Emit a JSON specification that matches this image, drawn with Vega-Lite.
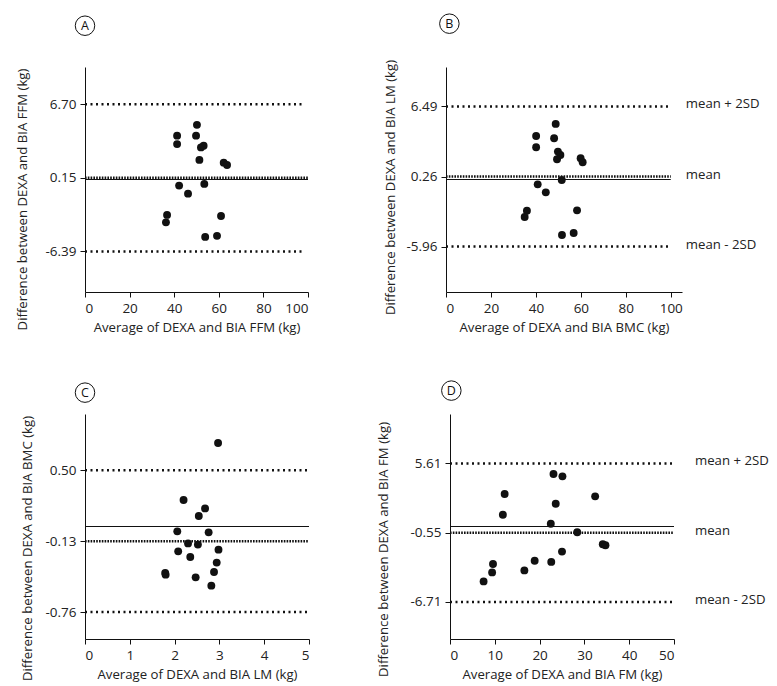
{
  "$schema": "https://vega.github.io/schema/vega-lite/v6.json",
  "padding": {"left": 14, "top": 11, "right": 5, "bottom": 5},
  "background": "white",
  "config": {
    "view": {"stroke": null},
    "axis": {"grid": false, "domainColor": "#111", "tickColor": "#111", "labelColor": "#222", "titleColor": "#222", "labelFont": "Open Sans", "titleFont": "Open Sans", "labelFontSize": 13.5, "titleFontSize": 13.2, "titleFontWeight": "normal", "tickSize": 5, "labelPadding": 4, "domainWidth": 1, "tickWidth": 1},
    "text": {"font": "Open Sans", "fontSize": 13.2, "color": "#222"}
  },
  "datasets": {
    "pts": [
      {"panel": "A", "avg": 41.3, "diff": 3.9}, {"panel": "A", "avg": 41.3, "diff": 3.15}, {"panel": "A", "avg": 50.2, "diff": 4.86}, {"panel": "A", "avg": 49.8, "diff": 3.9}, {"panel": "A", "avg": 52.0, "diff": 2.85}, {"panel": "A", "avg": 53.2, "diff": 3.0}, {"panel": "A", "avg": 51.3, "diff": 1.74}, {"panel": "A", "avg": 62.2, "diff": 1.5}, {"panel": "A", "avg": 63.7, "diff": 1.29}, {"panel": "A", "avg": 42.2, "diff": -0.54}, {"panel": "A", "avg": 46.2, "diff": -1.26}, {"panel": "A", "avg": 53.5, "diff": -0.39}, {"panel": "A", "avg": 36.8, "diff": -3.15}, {"panel": "A", "avg": 36.3, "diff": -3.81}, {"panel": "A", "avg": 61.0, "diff": -3.24}, {"panel": "A", "avg": 53.9, "diff": -5.1}, {"panel": "A", "avg": 59.2, "diff": -5.01},
      {"panel": "B", "avg": 48.8, "diff": 4.94}, {"panel": "B", "avg": 40.1, "diff": 3.87}, {"panel": "B", "avg": 48.1, "diff": 3.67}, {"panel": "B", "avg": 40.1, "diff": 2.87}, {"panel": "B", "avg": 49.8, "diff": 2.48}, {"panel": "B", "avg": 50.9, "diff": 2.18}, {"panel": "B", "avg": 49.4, "diff": 1.8}, {"panel": "B", "avg": 59.9, "diff": 1.89}, {"panel": "B", "avg": 60.8, "diff": 1.53}, {"panel": "B", "avg": 51.5, "diff": -0.04}, {"panel": "B", "avg": 40.8, "diff": -0.43}, {"panel": "B", "avg": 44.4, "diff": -1.14}, {"panel": "B", "avg": 36.0, "diff": -2.77}, {"panel": "B", "avg": 35.0, "diff": -3.33}, {"panel": "B", "avg": 58.3, "diff": -2.74}, {"panel": "B", "avg": 51.6, "diff": -4.93}, {"panel": "B", "avg": 56.8, "diff": -4.76},
      {"panel": "C", "avg": 2.97, "diff": 0.742}, {"panel": "C", "avg": 2.2, "diff": 0.236}, {"panel": "C", "avg": 2.68, "diff": 0.161}, {"panel": "C", "avg": 2.54, "diff": 0.093}, {"panel": "C", "avg": 2.06, "diff": -0.043}, {"panel": "C", "avg": 2.76, "diff": -0.052}, {"panel": "C", "avg": 2.3, "diff": -0.15}, {"panel": "C", "avg": 2.52, "diff": -0.161}, {"panel": "C", "avg": 2.08, "diff": -0.221}, {"panel": "C", "avg": 2.98, "diff": -0.206}, {"panel": "C", "avg": 2.35, "diff": -0.271}, {"panel": "C", "avg": 2.94, "diff": -0.321}, {"panel": "C", "avg": 1.79, "diff": -0.413}, {"panel": "C", "avg": 1.8, "diff": -0.428}, {"panel": "C", "avg": 2.88, "diff": -0.404}, {"panel": "C", "avg": 2.47, "diff": -0.452}, {"panel": "C", "avg": 2.82, "diff": -0.526},
      {"panel": "D", "avg": 23.1, "diff": 4.67}, {"panel": "D", "avg": 25.1, "diff": 4.46}, {"panel": "D", "avg": 12.2, "diff": 2.89}, {"panel": "D", "avg": 32.4, "diff": 2.68}, {"panel": "D", "avg": 23.6, "diff": 2.02}, {"panel": "D", "avg": 11.8, "diff": 1.04}, {"panel": "D", "avg": 22.5, "diff": 0.24}, {"panel": "D", "avg": 28.4, "diff": -0.51}, {"panel": "D", "avg": 34.1, "diff": -1.58}, {"panel": "D", "avg": 34.7, "diff": -1.67}, {"panel": "D", "avg": 25.0, "diff": -2.23}, {"panel": "D", "avg": 9.6, "diff": -3.33}, {"panel": "D", "avg": 18.9, "diff": -3.04}, {"panel": "D", "avg": 22.6, "diff": -3.15}, {"panel": "D", "avg": 9.4, "diff": -4.08}, {"panel": "D", "avg": 16.6, "diff": -3.9}, {"panel": "D", "avg": 7.5, "diff": -4.88}
    ],
    "lim": [
      {"panel": "A", "kind": "upper", "value": 6.70, "label": "mean + 2SD"}, {"panel": "A", "kind": "mean", "value": 0.15, "label": "mean"}, {"panel": "A", "kind": "lower", "value": -6.39, "label": "mean - 2SD"},
      {"panel": "B", "kind": "upper", "value": 6.49, "label": "mean + 2SD"}, {"panel": "B", "kind": "mean", "value": 0.26, "label": "mean"}, {"panel": "B", "kind": "lower", "value": -5.96, "label": "mean - 2SD"},
      {"panel": "C", "kind": "upper", "value": 0.50, "label": "mean + 2SD"}, {"panel": "C", "kind": "mean", "value": -0.13, "label": "mean"}, {"panel": "C", "kind": "lower", "value": -0.76, "label": "mean - 2SD"},
      {"panel": "D", "kind": "upper", "value": 5.61, "label": "mean + 2SD"}, {"panel": "D", "kind": "mean", "value": -0.55, "label": "mean"}, {"panel": "D", "kind": "lower", "value": -6.71, "label": "mean - 2SD"}
    ]
  },
  "spacing": 44,
  "vconcat": [
    {
      "spacing": 72,
      "hconcat": [
        {
          "width": 223, "height": 225,
          "data": {"name": "lim"},
          "transform": [{"filter": "datum.panel === 'A'"}],
          "resolve": {"axis": {"x": "independent", "y": "independent"}},
          "layer": [
            {"transform": [{"filter": "datum.kind === 'mean'"}],
             "mark": {"type": "rule", "color": "#111", "strokeWidth": 1.2},
             "encoding": {"x": {"datum": 0, "type": "quantitative", "scale": {"domain": [0, 100], "nice": false}, "axis": null}, "x2": {"datum": 100}, "y": {"datum": 0, "type": "quantitative", "scale": {"domain": [-10, 10], "nice": false}, "axis": null}}},
            {"transform": [{"filter": "datum.kind !== 'mean'"}],
             "mark": {"type": "rule", "color": "#111", "strokeWidth": 2.5, "strokeDash": [2, 3.5]},
             "encoding": {"x": {"datum": 0, "type": "quantitative", "scale": {"domain": [0, 100], "nice": false}, "axis": null}, "x2": {"datum": 98}, "y": {"field": "value", "type": "quantitative", "scale": {"domain": [-10, 10], "nice": false}, "axis": null}}},
            {"transform": [{"filter": "datum.kind === 'mean'"}],
             "mark": {"type": "rule", "color": "#111", "strokeWidth": 2.5, "strokeDash": [1.6, 1.2]},
             "encoding": {"x": {"datum": 0, "type": "quantitative", "scale": {"domain": [0, 100], "nice": false}, "axis": null}, "x2": {"datum": 100}, "y": {"field": "value", "type": "quantitative", "scale": {"domain": [-10, 10], "nice": false}, "axis": null}}},
            {"data": {"name": "pts"}, "transform": [{"filter": "datum.panel === 'A'"}],
             "mark": {"type": "circle", "color": "#111", "size": 62, "opacity": 1},
             "encoding": {
               "x": {"field": "avg", "type": "quantitative", "scale": {"domain": [0, 100], "nice": false}, "axis": {"title": "Average of DEXA and BIA FFM (kg)", "values": [0, 20, 40, 60, 80, 100], "titlePadding": 7}},
               "y": {"field": "diff", "type": "quantitative", "scale": {"domain": [-10, 10], "nice": false}, "axis": {"title": "Difference between DEXA and BIA FFM (kg)", "values": [6.70, 0.15, -6.39], "labelExpr": "replace(format(datum.value, '.2f'), '\u2212', '-')", "minExtent": 40, "maxExtent": 40, "titlePadding": 16, "titleY": 132}}}},
            {"transform": [{"filter": "datum.kind === 'mean'"}],
             "mark": {"type": "point", "shape": "circle", "filled": false, "size": 380, "stroke": "#111", "strokeWidth": 1, "opacity": 1},
             "encoding": {"x": {"datum": 0, "type": "quantitative", "scale": {"domain": [0, 100], "nice": false}, "axis": null}, "y": {"datum": 13.67, "type": "quantitative", "scale": {"domain": [-10, 10], "nice": false}, "axis": null}}},
            {"transform": [{"filter": "datum.kind === 'mean'"}],
             "mark": {"type": "text", "fontSize": 12.5, "color": "#111", "align": "center", "baseline": "middle"},
             "encoding": {"x": {"datum": 0, "type": "quantitative", "scale": {"domain": [0, 100], "nice": false}, "axis": null}, "y": {"datum": 13.67, "type": "quantitative", "scale": {"domain": [-10, 10], "nice": false}, "axis": null}, "text": {"field": "panel"}}}
          ]
        },
        {
          "width": 236, "height": 225,
          "data": {"name": "lim"},
          "transform": [{"filter": "datum.panel === 'B'"}],
          "resolve": {"axis": {"x": "independent", "y": "independent"}},
          "layer": [
            {"transform": [{"filter": "datum.kind === 'mean'"}],
             "mark": {"type": "rule", "color": "#111", "strokeWidth": 1.2},
             "encoding": {"x": {"datum": 0, "type": "quantitative", "scale": {"domain": [0, 105], "nice": false}, "axis": null}, "x2": {"datum": 100}, "y": {"datum": 0, "type": "quantitative", "scale": {"domain": [-10, 10], "nice": false}, "axis": null}}},
            {"transform": [{"filter": "datum.kind !== 'mean'"}],
             "mark": {"type": "rule", "color": "#111", "strokeWidth": 2.5, "strokeDash": [2, 3.5]},
             "encoding": {"x": {"datum": 0, "type": "quantitative", "scale": {"domain": [0, 105], "nice": false}, "axis": null}, "x2": {"datum": 100}, "y": {"field": "value", "type": "quantitative", "scale": {"domain": [-10, 10], "nice": false}, "axis": null}}},
            {"transform": [{"filter": "datum.kind === 'mean'"}],
             "mark": {"type": "rule", "color": "#111", "strokeWidth": 2.5, "strokeDash": [1.6, 1.2]},
             "encoding": {"x": {"datum": 0, "type": "quantitative", "scale": {"domain": [0, 105], "nice": false}, "axis": null}, "x2": {"datum": 100}, "y": {"field": "value", "type": "quantitative", "scale": {"domain": [-10, 10], "nice": false}, "axis": null}}},
            {"mark": {"type": "text", "align": "left", "baseline": "middle", "dx": 15, "dy": -2},
             "encoding": {"x": {"datum": 100, "type": "quantitative", "scale": {"domain": [0, 105], "nice": false}, "axis": null}, "y": {"field": "value", "type": "quantitative", "scale": {"domain": [-10, 10], "nice": false}, "axis": null}, "text": {"field": "label"}}},
            {"data": {"name": "pts"}, "transform": [{"filter": "datum.panel === 'B'"}],
             "mark": {"type": "circle", "color": "#111", "size": 62, "opacity": 1},
             "encoding": {
               "x": {"field": "avg", "type": "quantitative", "scale": {"domain": [0, 105], "nice": false}, "axis": {"title": "Average of DEXA and BIA BMC (kg)", "values": [0, 20, 40, 60, 80, 100], "titlePadding": 7}},
               "y": {"field": "diff", "type": "quantitative", "scale": {"domain": [-10, 10], "nice": false}, "axis": {"title": "Difference between DEXA and BIA LM (kg)", "values": [6.49, 0.26, -5.96], "labelExpr": "replace(format(datum.value, '.2f'), '\u2212', '-')", "minExtent": 40, "maxExtent": 40, "titlePadding": 9, "titleY": 120}}}},
            {"transform": [{"filter": "datum.kind === 'mean'"}],
             "mark": {"type": "point", "shape": "circle", "filled": false, "size": 380, "stroke": "#111", "strokeWidth": 1, "opacity": 1},
             "encoding": {"x": {"datum": 1.5, "type": "quantitative", "scale": {"domain": [0, 105], "nice": false}, "axis": null}, "y": {"datum": 13.85, "type": "quantitative", "scale": {"domain": [-10, 10], "nice": false}, "axis": null}}},
            {"transform": [{"filter": "datum.kind === 'mean'"}],
             "mark": {"type": "text", "fontSize": 12.5, "color": "#111", "align": "center", "baseline": "middle"},
             "encoding": {"x": {"datum": 1.5, "type": "quantitative", "scale": {"domain": [0, 105], "nice": false}, "axis": null}, "y": {"datum": 13.85, "type": "quantitative", "scale": {"domain": [-10, 10], "nice": false}, "axis": null}, "text": {"field": "panel"}}}
          ]
        }
      ]
    },
    {
      "spacing": 64,
      "hconcat": [
        {
          "width": 224, "height": 225,
          "data": {"name": "lim"},
          "transform": [{"filter": "datum.panel === 'C'"}],
          "resolve": {"axis": {"x": "independent", "y": "independent"}},
          "layer": [
            {"transform": [{"filter": "datum.kind === 'mean'"}],
             "mark": {"type": "rule", "color": "#111", "strokeWidth": 1.2},
             "encoding": {"x": {"datum": 0, "type": "quantitative", "scale": {"domain": [0, 5], "nice": false}, "axis": null}, "x2": {"datum": 5}, "y": {"datum": 0, "type": "quantitative", "scale": {"domain": [-1, 1], "nice": false}, "axis": null}}},
            {"transform": [{"filter": "datum.kind !== 'mean'"}],
             "mark": {"type": "rule", "color": "#111", "strokeWidth": 2.5, "strokeDash": [2, 3.5]},
             "encoding": {"x": {"datum": 0, "type": "quantitative", "scale": {"domain": [0, 5], "nice": false}, "axis": null}, "x2": {"datum": 5}, "y": {"field": "value", "type": "quantitative", "scale": {"domain": [-1, 1], "nice": false}, "axis": null}}},
            {"transform": [{"filter": "datum.kind === 'mean'"}],
             "mark": {"type": "rule", "color": "#111", "strokeWidth": 2.5, "strokeDash": [1.6, 1.2]},
             "encoding": {"x": {"datum": 0, "type": "quantitative", "scale": {"domain": [0, 5], "nice": false}, "axis": null}, "x2": {"datum": 5}, "y": {"field": "value", "type": "quantitative", "scale": {"domain": [-1, 1], "nice": false}, "axis": null}}},
            {"data": {"name": "pts"}, "transform": [{"filter": "datum.panel === 'C'"}],
             "mark": {"type": "circle", "color": "#111", "size": 62, "opacity": 1},
             "encoding": {
               "x": {"field": "avg", "type": "quantitative", "scale": {"domain": [0, 5], "nice": false}, "axis": {"title": "Average of DEXA and BIA LM (kg)", "values": [0, 1, 2, 3, 4, 5], "titlePadding": 7}},
               "y": {"field": "diff", "type": "quantitative", "scale": {"domain": [-1, 1], "nice": false}, "axis": {"title": "Difference between DEXA and BIA BMC (kg)", "values": [0.50, -0.13, -0.76], "labelExpr": "replace(format(datum.value, '.2f'), '\u2212', '-')", "minExtent": 40, "maxExtent": 40, "titlePadding": 11, "titleY": 134}}}},
            {"transform": [{"filter": "datum.kind === 'mean'"}],
             "mark": {"type": "point", "shape": "circle", "filled": false, "size": 380, "stroke": "#111", "strokeWidth": 1, "opacity": 1},
             "encoding": {"x": {"datum": 0, "type": "quantitative", "scale": {"domain": [0, 5], "nice": false}, "axis": null}, "y": {"datum": 1.19, "type": "quantitative", "scale": {"domain": [-1, 1], "nice": false}, "axis": null}}},
            {"transform": [{"filter": "datum.kind === 'mean'"}],
             "mark": {"type": "text", "fontSize": 12.5, "color": "#111", "align": "center", "baseline": "middle"},
             "encoding": {"x": {"datum": 0, "type": "quantitative", "scale": {"domain": [0, 5], "nice": false}, "axis": null}, "y": {"datum": 1.19, "type": "quantitative", "scale": {"domain": [-1, 1], "nice": false}, "axis": null}, "text": {"field": "panel"}}}
          ]
        },
        {
          "width": 224, "height": 225,
          "data": {"name": "lim"},
          "transform": [{"filter": "datum.panel === 'D'"}],
          "resolve": {"axis": {"x": "independent", "y": "independent"}},
          "layer": [
            {"transform": [{"filter": "datum.kind === 'mean'"}],
             "mark": {"type": "rule", "color": "#111", "strokeWidth": 1.2},
             "encoding": {"x": {"datum": 0, "type": "quantitative", "scale": {"domain": [0, 50], "nice": false}, "axis": null}, "x2": {"datum": 50}, "y": {"datum": 0, "type": "quantitative", "scale": {"domain": [-10, 10], "nice": false}, "axis": null}}},
            {"transform": [{"filter": "datum.kind !== 'mean'"}],
             "mark": {"type": "rule", "color": "#111", "strokeWidth": 2.5, "strokeDash": [2, 3.5]},
             "encoding": {"x": {"datum": 0, "type": "quantitative", "scale": {"domain": [0, 50], "nice": false}, "axis": null}, "x2": {"datum": 50}, "y": {"field": "value", "type": "quantitative", "scale": {"domain": [-10, 10], "nice": false}, "axis": null}}},
            {"transform": [{"filter": "datum.kind === 'mean'"}],
             "mark": {"type": "rule", "color": "#111", "strokeWidth": 2.5, "strokeDash": [1.6, 1.2]},
             "encoding": {"x": {"datum": 0, "type": "quantitative", "scale": {"domain": [0, 50], "nice": false}, "axis": null}, "x2": {"datum": 50}, "y": {"field": "value", "type": "quantitative", "scale": {"domain": [-10, 10], "nice": false}, "axis": null}}},
            {"mark": {"type": "text", "align": "left", "baseline": "middle", "dx": 21, "dy": -2},
             "encoding": {"x": {"datum": 50, "type": "quantitative", "scale": {"domain": [0, 50], "nice": false}, "axis": null}, "y": {"field": "value", "type": "quantitative", "scale": {"domain": [-10, 10], "nice": false}, "axis": null}, "text": {"field": "label"}}},
            {"data": {"name": "pts"}, "transform": [{"filter": "datum.panel === 'D'"}],
             "mark": {"type": "circle", "color": "#111", "size": 62, "opacity": 1},
             "encoding": {
               "x": {"field": "avg", "type": "quantitative", "scale": {"domain": [0, 50], "nice": false}, "axis": {"title": "Average of DEXA and BIA FM (kg)", "values": [0, 10, 20, 30, 40, 50], "titlePadding": 7}},
               "y": {"field": "diff", "type": "quantitative", "scale": {"domain": [-10, 10], "nice": false}, "axis": {"title": "Difference between DEXA and BIA FM (kg)", "values": [5.61, -0.55, -6.71], "labelExpr": "replace(format(datum.value, '.2f'), '\u2212', '-')", "minExtent": 40, "maxExtent": 40, "titlePadding": 20, "titleY": 135}}}},
            {"transform": [{"filter": "datum.kind === 'mean'"}],
             "mark": {"type": "point", "shape": "circle", "filled": false, "size": 380, "stroke": "#111", "strokeWidth": 1, "opacity": 1},
             "encoding": {"x": {"datum": 0.3, "type": "quantitative", "scale": {"domain": [0, 50], "nice": false}, "axis": null}, "y": {"datum": 12.08, "type": "quantitative", "scale": {"domain": [-10, 10], "nice": false}, "axis": null}}},
            {"transform": [{"filter": "datum.kind === 'mean'"}],
             "mark": {"type": "text", "fontSize": 12.5, "color": "#111", "align": "center", "baseline": "middle"},
             "encoding": {"x": {"datum": 0.3, "type": "quantitative", "scale": {"domain": [0, 50], "nice": false}, "axis": null}, "y": {"datum": 12.08, "type": "quantitative", "scale": {"domain": [-10, 10], "nice": false}, "axis": null}, "text": {"field": "panel"}}}
          ]
        }
      ]
    }
  ]
}
